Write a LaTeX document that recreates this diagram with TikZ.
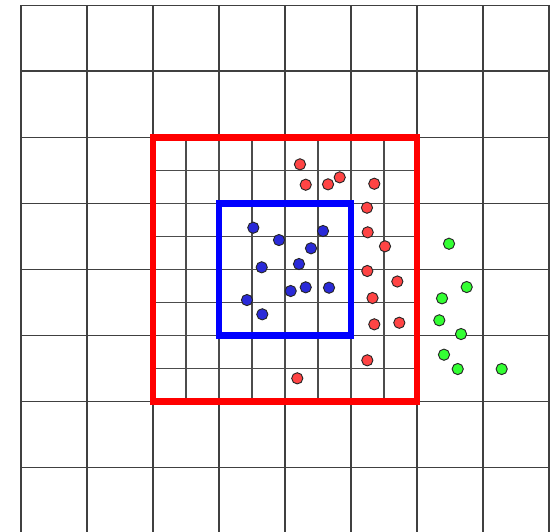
\documentclass[tikz,border=0pt]{standalone}
\usepackage{tikz}
\usepackage{xcolor}

\definecolor{dotred}{HTML}{FF4444}
\definecolor{dotblue}{HTML}{2A2AD8}
\definecolor{dotgreen}{HTML}{33FF33}

\begin{document}
\begin{tikzpicture}[
x=1cm, y=1cm,
gridline/.style={draw=black!75, line width=0.45pt},
finegrid/.style={draw=black!70, line width=0.45pt},
outerbox/.style={draw=red, line width=3pt},
innerbox/.style={draw=blue, line width=3pt},
dot/.style={
circle,
draw=black!85,
line width=0.4pt,
inner sep=0pt,
minimum size=0.17cm
},
reddot/.style={dot, fill=dotred},
bluedot/.style={dot, fill=dotblue},
greendot/.style={dot, fill=dotgreen}
]

\clip (-0.318,0.0303) rectangle (8.121,8.076);

% coarse grid
\draw[gridline] (0,0) grid (8,8);

% fine grid inside the red box
\draw[finegrid, step=0.5] (2,2) grid (6,6);

\draw[outerbox] (2,2) rectangle (6,6);
\draw[innerbox] (3,3) rectangle (5,5);

% points
\foreach \p [count=\i] in {(4.227,5.586),(4.314,5.277),(4.652,5.283),(4.829,5.389),
(5.353,5.292),(5.242,4.929),(5.253,4.556),(5.515,4.344),(5.247,3.970),
(5.702,3.811),(5.326,3.561),(5.353,3.162),(5.732,3.186),(5.247,2.617),(4.186,2.344)}
\node[reddot] (r\i) at \p {};

\foreach \p [count=\i] in {(3.520,4.626),(3.909,4.439),(4.576,4.576),(4.394,4.314),
(3.647,4.026),(4.212,4.076),(4.086,3.667),(4.314,3.723),(4.667,3.717),
(3.424,3.530),(3.656,3.314)}
\node[bluedot] (b\i) at \p {};

\foreach \p [count=\i] in {(6.485,4.383),(6.753,3.727),(6.379,3.556),(6.338,3.223),
(6.667,3.015),(6.409,2.702),(6.617,2.485),(7.283,2.485)}
\node[greendot] (g\i) at \p {};

\end{tikzpicture}
\end{document}
